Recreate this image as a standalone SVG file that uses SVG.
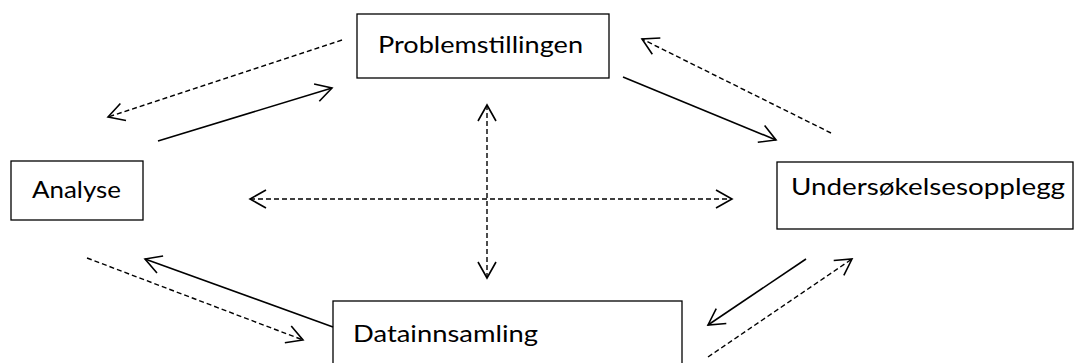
<svg xmlns="http://www.w3.org/2000/svg" width="1075" height="363" viewBox="0 0 1075 363">
  <style>
    .box { fill: #ffffff; stroke: #000000; stroke-width: 1.3; }
    .lbl { font-family: Lato, "Open Sans", "Liberation Sans", sans-serif; font-size: 24px; fill: #000000; }
    .solid { fill: none; stroke: #000000; stroke-width: 1.6; }
    .dash { fill: none; stroke: #000000; stroke-width: 1.4; stroke-dasharray: 5 3; }
  </style>
  <defs>
    <marker id="ah" viewBox="-18 -11 20 22" refX="0" refY="0" markerWidth="20" markerHeight="22" markerUnits="userSpaceOnUse" orient="auto-start-reverse">
      <path d="M-16,-9 L0,0 L-16,9" fill="none" stroke="#000000" stroke-width="1.6"/>
    </marker>
  </defs>
  <rect width="1075" height="363" fill="#ffffff"/>

  <g id="problemstillingen">
    <rect class="box" x="357" y="14" width="252" height="64"/>
    <text class="lbl" x="378" y="53" textLength="205" lengthAdjust="spacingAndGlyphs">Problemstillingen</text>
  </g>
  <g id="analyse">
    <rect class="box" x="11" y="161" width="132" height="59"/>
    <text class="lbl" x="32" y="198" textLength="89" lengthAdjust="spacingAndGlyphs">Analyse</text>
  </g>
  <g id="undersokelsesopplegg">
    <rect class="box" x="777" y="162" width="296" height="67"/>
    <text class="lbl" x="791" y="195" textLength="274" lengthAdjust="spacingAndGlyphs">Undersøkelsesopplegg</text>
  </g>
  <g id="datainnsamling">
    <rect class="box" x="333" y="301" width="349" height="70"/>
    <text class="lbl" x="353" y="342" textLength="185" lengthAdjust="spacingAndGlyphs">Datainnsamling</text>
  </g>

  <g id="connectors">
    <line class="dash" x1="342" y1="40" x2="108" y2="117" marker-end="url(#ah)"/>
    <line class="solid" x1="158" y1="141" x2="332" y2="88" marker-end="url(#ah)"/>
    <line class="solid" x1="623" y1="77" x2="776" y2="140" marker-end="url(#ah)"/>
    <line class="dash" x1="831" y1="133" x2="642" y2="39" marker-end="url(#ah)"/>
    <line class="dash" x1="250" y1="199" x2="732" y2="199" marker-start="url(#ah)" marker-end="url(#ah)"/>
    <line class="dash" x1="487" y1="105" x2="487" y2="278" marker-start="url(#ah)" marker-end="url(#ah)"/>
    <line class="dash" x1="87" y1="258" x2="303" y2="340" marker-end="url(#ah)"/>
    <line class="solid" x1="333" y1="327" x2="145" y2="259" marker-end="url(#ah)"/>
    <line class="solid" x1="806" y1="259" x2="708" y2="325" marker-end="url(#ah)"/>
    <line class="dash" x1="708" y1="357" x2="852" y2="259" marker-end="url(#ah)"/>
  </g>
</svg>
